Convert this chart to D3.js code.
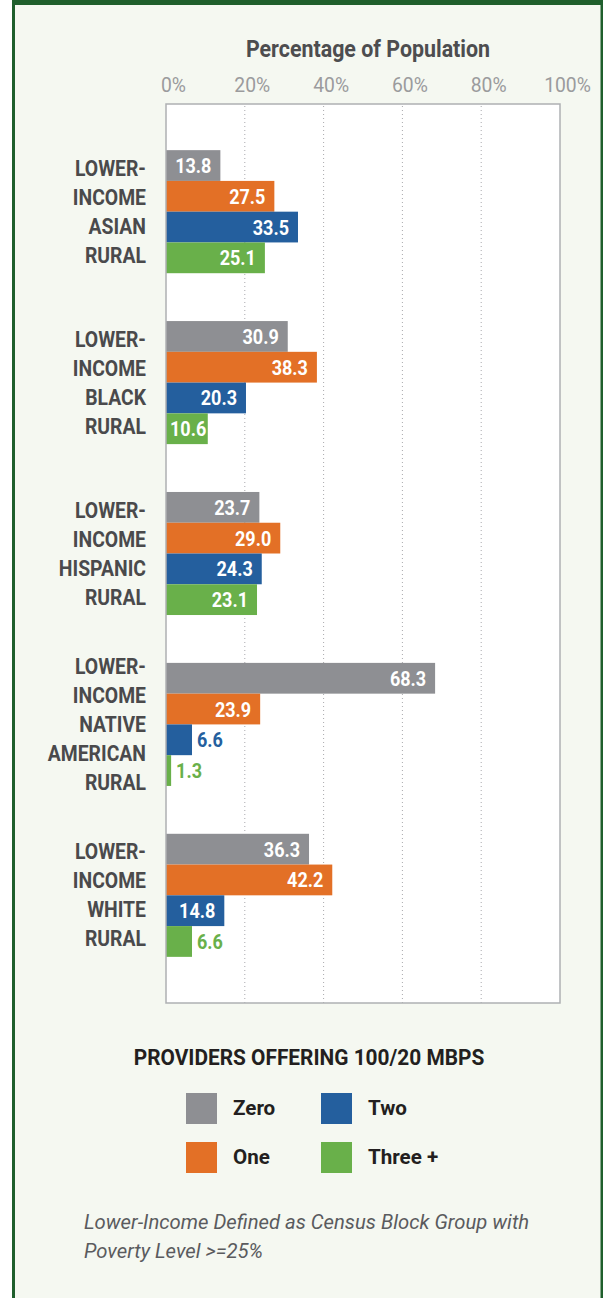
<!DOCTYPE html>
<html>
<head>
<meta charset="utf-8">
<script src="https://cdn.jsdelivr.net/npm/d3@7"></script>
<style>
  html, body { margin: 0; padding: 0; background: #ffffff; }
  svg { display: block; }
</style>
</head>
<body>
<svg id="chart" width="603" height="1298"></svg>
<script>
// Groups shown on the y axis (one label line per entry)
const groups = [
  ["LOWER-", "INCOME", "ASIAN", "RURAL"],
  ["LOWER-", "INCOME", "BLACK", "RURAL"],
  ["LOWER-", "INCOME", "HISPANIC", "RURAL"],
  ["LOWER-", "INCOME", "NATIVE", "AMERICAN", "RURAL"],
  ["LOWER-", "INCOME", "WHITE", "RURAL"]
];
// Number of providers offering 100/20 Mbps
const series = ["Zero", "One", "Two", "Three +"];
// Share of population (%) per group, one array per series
const zeroVals  = [13.8, 30.9, 23.7, 68.3, 36.3];
const oneVals   = [27.5, 38.3, 29.0, 23.9, 42.2];
const twoVals   = [33.5, 20.3, 24.3, 6.6, 14.8];
const threeVals = [25.1, 10.6, 23.1, 1.3, 6.6];
const xTicks = [0, 20, 40, 60, 80, 100];
const colors = ["#8e8f93", "#e37026", "#245f9e", "#69b04a"];

const values = [zeroVals, oneVals, twoVals, threeVals];
const FONT = 'Roboto, "Noto Sans", sans-serif';

// Squeeze a text run horizontally to mimic a condensed typeface
function condense(sel, f) {
  sel.each(function () {
    const L = this.getComputedTextLength();
    d3.select(this).attr("textLength", L * f).attr("lengthAdjust", "spacingAndGlyphs");
  });
}

const svg = d3.select("#chart");
const W = 603, H = 1298;

// Panel background and green frame
svg.append("rect").attr("x", 12).attr("y", 0).attr("width", W - 12).attr("height", H).attr("fill", "#f5f8f1");
svg.append("rect").attr("x", 12).attr("y", 0).attr("width", W - 12).attr("height", 5).attr("fill", "#1f5f2c");
svg.append("rect").attr("x", 12).attr("y", 0).attr("width", 3).attr("height", H).attr("fill", "#1f5f2c");
svg.append("rect").attr("x", W - 2.5).attr("y", 0).attr("width", 2.5).attr("height", H).attr("fill", "#1f5f2c");

const plot = { left: 166, right: 560, top: 104, bottom: 1003 };

const x = d3.scaleLinear().domain([0, 100]).range([plot.left, plot.right]);
const y0 = d3.scaleBand().domain(d3.range(groups.length)).range([plot.top, plot.bottom])
  .paddingInner(0.28).paddingOuter(0.27);
const y1 = d3.scaleBand().domain(d3.range(series.length)).range([0, y0.bandwidth()]);

// Plot area
svg.append("rect")
  .attr("x", plot.left).attr("y", plot.top)
  .attr("width", plot.right - plot.left).attr("height", plot.bottom - plot.top)
  .attr("fill", "#ffffff");

// Dotted vertical gridlines
svg.append("g").selectAll("line")
  .data(xTicks.filter(t => t > 0 && t < 100))
  .join("line")
  .attr("x1", d => x(d)).attr("x2", d => x(d))
  .attr("y1", plot.top + 2).attr("y2", plot.bottom)
  .attr("stroke", "#a9a9ad").attr("stroke-width", 1)
  .attr("stroke-dasharray", "1,3");

// Top axis tick labels
const axis = d3.axisTop(x).tickValues(xTicks).tickFormat(d => d + "%").tickSize(0).tickPadding(0);
const axisG = svg.append("g").attr("transform", `translate(7,92)`).call(axis);
axisG.select(".domain").remove();
axisG.selectAll("text")
  .attr("font-family", FONT).attr("font-size", 21).attr("fill", "#9b9b9d")
  .attr("dy", 0)
  .call(condense, 0.92);

// Axis title
svg.append("text")
  .attr("x", 368).attr("y", 57).attr("text-anchor", "middle")
  .attr("font-family", FONT).attr("font-weight", "bold").attr("font-size", 23)
  .attr("fill", "#4d4d4f").text("Percentage of Population")
  .call(condense, 0.93);

// Bars
const gGroups = svg.append("g").selectAll("g")
  .data(groups.map((g, i) => i))
  .join("g")
  .attr("transform", i => `translate(0,${y0(i)})`);

gGroups.selectAll("rect")
  .data(i => series.map((s, j) => ({ j, v: values[j][i] })))
  .join("rect")
  .attr("x", x(0))
  .attr("y", d => y1(d.j))
  .attr("width", d => x(d.v) - x(0))
  .attr("height", y1.bandwidth())
  .attr("fill", d => colors[d.j]);

// Value labels: inside (white) for long bars, outside (bar colour) for short ones
gGroups.selectAll("text.val")
  .data(i => series.map((s, j) => ({ j, v: values[j][i] })))
  .join("text")
  .attr("class", "val")
  .attr("x", d => d.v >= 10 ? x(d.v) - 9 : x(d.v) + 5)
  .attr("y", d => y1(d.j) + y1.bandwidth() / 2 + 7.5)
  .attr("text-anchor", d => d.v >= 10 ? "end" : "start")
  .attr("font-family", FONT).attr("font-weight", "bold").attr("font-size", 20)
  .attr("fill", d => d.v >= 10 ? "#ffffff" : colors[d.j])
  .text(d => d.v.toFixed(1))
  .call(condense, 0.9)
  .each(function (d) {
    // keep inside labels clear of the bar's start
    if (d.v < 10) return;
    const w = +this.getAttribute("textLength");
    const minX = x(0) + 4 + w;
    if (+this.getAttribute("x") < minX) this.setAttribute("x", minX);
  });

// Plot frame
svg.append("rect")
  .attr("x", plot.left).attr("y", plot.top)
  .attr("width", plot.right - plot.left).attr("height", plot.bottom - plot.top)
  .attr("fill", "none").attr("stroke", "#aeb0b3").attr("stroke-width", 1.5);

// Group labels, one text run per line
const lineH = 29;
const labelLines = [];
groups.forEach((lines, i) => {
  const cy = y0(i) + y0.bandwidth() / 2;
  const first = cy - (lines.length - 1) * lineH / 2 + 7.5;
  lines.forEach((t, k) => labelLines.push({ t, y: first + k * lineH }));
});
svg.append("g").selectAll("text")
  .data(labelLines)
  .join("text")
  .attr("x", 146).attr("y", d => d.y)
  .attr("text-anchor", "end")
  .attr("font-family", FONT).attr("font-weight", "bold").attr("font-size", 21.5)
  .attr("fill", "#4a4a4c")
  .text(d => d.t)
  .call(condense, 0.9);

// Legend
svg.append("text")
  .attr("x", 309).attr("y", 1064.5).attr("text-anchor", "middle")
  .attr("font-family", FONT).attr("font-weight", "bold").attr("font-size", 21.5)
  .attr("fill", "#231f20").text("PROVIDERS OFFERING 100/20 MBPS")
  .call(condense, 0.97);

const legendPos = [
  { x: 186, y: 1093 }, { x: 186, y: 1142 },
  { x: 321, y: 1093 }, { x: 321, y: 1142 }
];
const lg = svg.append("g").selectAll("g")
  .data(series.map((s, j) => ({ s, j })))
  .join("g")
  .attr("transform", d => `translate(${legendPos[d.j].x},${legendPos[d.j].y})`);
lg.append("rect").attr("width", 31).attr("height", 31).attr("fill", d => colors[d.j]);
lg.append("text")
  .attr("x", 47).attr("y", 22)
  .attr("font-family", FONT).attr("font-weight", "bold").attr("font-size", 21)
  .attr("fill", "#231f20").text(d => d.s)
  .call(condense, 0.98);

// Footnote
const note = ["Lower-Income Defined as Census Block Group with", "Poverty Level >=25%"];
svg.append("g").selectAll("text")
  .data(note)
  .join("text")
  .attr("x", 84).attr("y", (d, i) => 1229 + i * 29)
  .attr("font-family", FONT).attr("font-style", "italic").attr("font-size", 21)
  .attr("fill", "#5a5b5e").text(d => d)
  .call(condense, 0.965);
</script>
</body>
</html>
